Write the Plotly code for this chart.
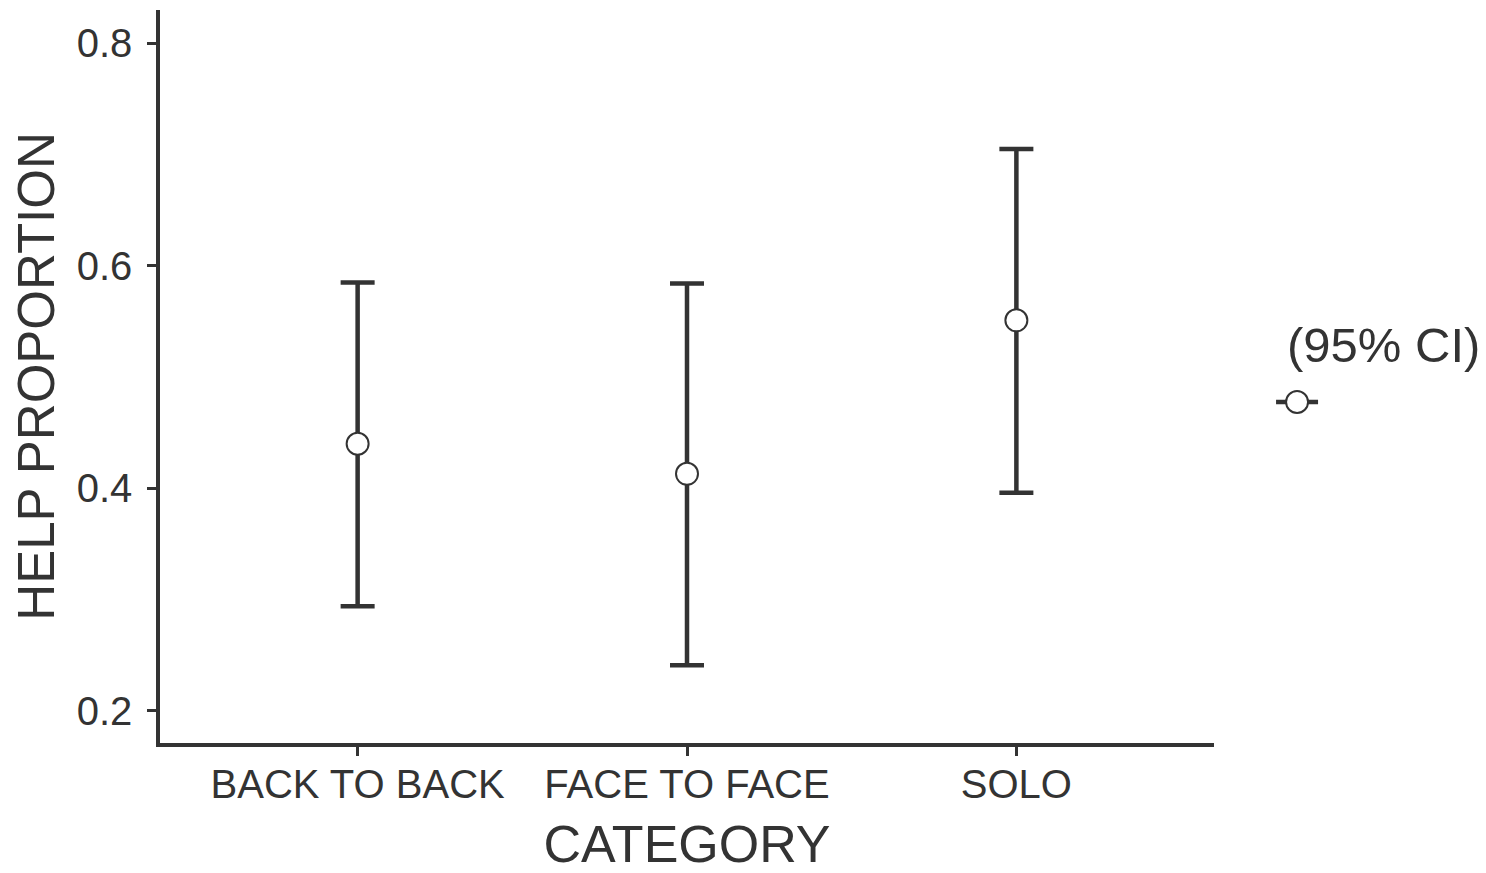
import plotly.graph_objects as go

categories = ["BACK TO BACK", "FACE TO FACE", "SOLO"]
mean_values = [0.440, 0.413, 0.551]
ci_lower = [0.294, 0.241, 0.396]
ci_upper = [0.585, 0.584, 0.705]
y_ticks = [0.2, 0.4, 0.6, 0.8]
legend_title = "(95% CI)"

INK = "#333333"
FONT = "Liberation Sans, Arial, Helvetica, sans-serif"

err_plus = [u - m for u, m in zip(ci_upper, mean_values)]
err_minus = [m - l for m, l in zip(mean_values, ci_lower)]

fig = go.Figure()
fig.add_trace(go.Scatter(
    x=categories, y=mean_values, mode="markers", showlegend=False,
    marker=dict(size=22, color="white", line=dict(color=INK, width=2)),
    error_y=dict(type="data", symmetric=False, array=err_plus, arrayminus=err_minus,
                 color=INK, thickness=4.5, width=17),
))

# legend (title + key: short bar with open circle)
fig.add_annotation(x=1.067, y=0.543, xref="paper", yref="paper", xanchor="left",
                   yanchor="middle", text=legend_title, showarrow=False,
                   font=dict(size=49, color=INK))
key_x, key_y = 1.0788, 0.4652
fig.add_shape(type="line", xref="paper", yref="paper", xsizemode="pixel", ysizemode="pixel",
              xanchor=key_x, yanchor=key_y, x0=-21, x1=21, y0=0, y1=0,
              line=dict(color=INK, width=4.5))
fig.add_shape(type="circle", xref="paper", yref="paper", xsizemode="pixel", ysizemode="pixel",
              xanchor=key_x, yanchor=key_y, x0=-11, x1=11, y0=-11, y1=11,
              fillcolor="white", line=dict(color=INK, width=2))

fig.update_layout(
    width=1478, height=865,
    margin=dict(l=152, r=272, t=2, b=130),
    paper_bgcolor="white", plot_bgcolor="white",
    font=dict(family=FONT, color=INK, size=40),
    showlegend=False,
    xaxis=dict(
        title=dict(text="CATEGORY", font=dict(size=52, color=INK), standoff=24),
        range=[-0.6, 2.6], showline=True, linecolor=INK, linewidth=3.5,
        ticks="outside", ticklen=9, tickwidth=3, tickcolor=INK,
        ticklabelstandoff=-6, automargin=True,
        showgrid=False, zeroline=False,
        tickfont=dict(size=40, color=INK),
    ),
    yaxis=dict(
        title=dict(text="HELP PROPORTION", font=dict(size=51, color=INK), standoff=28),
        range=[0.171, 0.830], tickvals=y_ticks, ticktext=[f"{v:.1f}" for v in y_ticks],
        showline=True, linecolor=INK, linewidth=3.5,
        ticks="outside", ticklen=9, tickwidth=3, tickcolor=INK,
        ticklabelstandoff=7, automargin=True,
        showgrid=False, zeroline=False,
        tickfont=dict(size=40, color=INK),
    ),
)

fig.write_html("out.html")
